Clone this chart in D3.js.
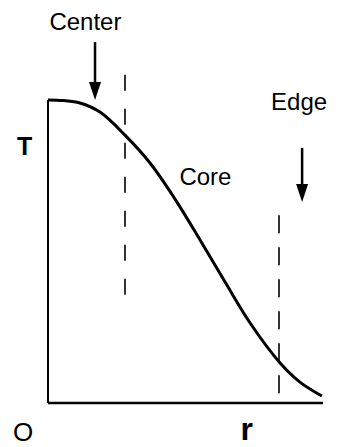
<!DOCTYPE html>
<html>
<head>
<meta charset="utf-8">
<script src="https://cdn.jsdelivr.net/npm/d3@7"></script>
<style>
  body { margin: 0; background: #fff; }
  svg { display: block; }
  text { font-family: "Liberation Sans", Arial, Helvetica, sans-serif; fill: #000; }
</style>
</head>
<body>
<svg width="340" height="447"></svg>
<script>
// profile of temperature vs radius
const rValues = [0, 0.055, 0.116, 0.189, 0.28, 0.371, 0.462, 0.553, 0.644, 0.735, 0.844, 0.916, 0.996];
const tValues = [1, 0.998, 0.990, 0.960, 0.884, 0.792, 0.673, 0.538, 0.399, 0.264, 0.132, 0.069, 0.023];

// dashed boundaries: r position, top T, bottom T
const dashR = [0.28, 0.84];
const dashTop = [1.083, 0.62];
const dashBottom = [0.34, 0];

// arrows: r position, start T, tip T
const arrowR = [0.171, 0.924];
const arrowFrom = [1.191, 0.842];
const arrowTo = [1.0, 0.663];

// labels
const labelText = ["Center", "Edge", "Core"];
const labelR = [0.136, 0.913, 0.478];
const labelT = [1.231, 0.967, 0.719];
const labelAnchor = ["middle", "middle", "start"];

function drawChart() {
    let svg = d3.select("svg");

    const attr_area = { left: 48, right: 323, top: 100, bottom: 403 };

    let scaleX = d3.scaleLinear().domain([0, 1]).range([attr_area.left, attr_area.right]);
    let scaleY = d3.scaleLinear().domain([0, 1]).range([attr_area.bottom, attr_area.top]);

    // axes: plain lines, no ticks
    svg.append("line")
        .attr("x1", scaleX(0)).attr("y1", scaleY(0))
        .attr("x2", scaleX(0)).attr("y2", scaleY(1))
        .style("stroke", "#000").style("stroke-width", 2);
    svg.append("line")
        .attr("x1", scaleX(0)).attr("y1", scaleY(0))
        .attr("x2", scaleX(1)).attr("y2", scaleY(0))
        .style("stroke", "#000").style("stroke-width", 2.5);

    // dashed lines
    dashR.forEach((r, i) => {
        svg.append("line")
            .attr("x1", scaleX(r)).attr("y1", scaleY(dashTop[i]))
            .attr("x2", scaleX(r)).attr("y2", scaleY(dashBottom[i]))
            .style("stroke", "#000")
            .style("stroke-width", 1.6)
            .style("stroke-dasharray", i == 0 ? "16,18" : "18,14");
    });

    // curve
    const points = rValues.map((r, i) => ({ r: r, t: tValues[i] }));
    const lineGenerator = d3.line()
        .x(d => scaleX(d.r))
        .y(d => scaleY(d.t))
        .curve(d3.curveCatmullRom.alpha(0.5));
    svg.append("path")
        .datum(points)
        .attr("d", lineGenerator)
        .style("fill", "none")
        .style("stroke", "#000")
        .style("stroke-width", 3);

    // arrows
    arrowR.forEach((r, i) => {
        const x = scaleX(r);
        const y0 = scaleY(arrowFrom[i]);
        const y1 = scaleY(arrowTo[i]);
        const headLen = 18, headW = 6;
        svg.append("line")
            .attr("x1", x).attr("y1", y0)
            .attr("x2", x).attr("y2", y1 - headLen + 2)
            .style("stroke", "#000").style("stroke-width", 2.5);
        svg.append("path")
            .attr("d", `M${x - headW},${y1 - headLen} L${x + headW},${y1 - headLen} L${x},${y1} Z`)
            .style("fill", "#000");
    });

    // labels
    labelText.forEach((txt, i) => {
        svg.append("text")
            .attr("x", scaleX(labelR[i]))
            .attr("y", scaleY(labelT[i]))
            .attr("text-anchor", labelAnchor[i])
            .style("font-size", "24px")
            .text(txt);
    });

    // axis names
    svg.append("text")
        .attr("x", 17).attr("y", 155)
        .style("font-size", "25px").style("font-weight", "bold")
        .text("T");
    svg.append("text")
        .attr("x", 13).attr("y", 441)
        .style("font-size", "26px")
        .text("O");
    svg.append("text")
        .attr("x", scaleX(0.7)).attr("y", 440)
        .style("font-size", "32px").style("font-weight", "bold")
        .text("r");
}

drawChart();
</script>
</body>
</html>
